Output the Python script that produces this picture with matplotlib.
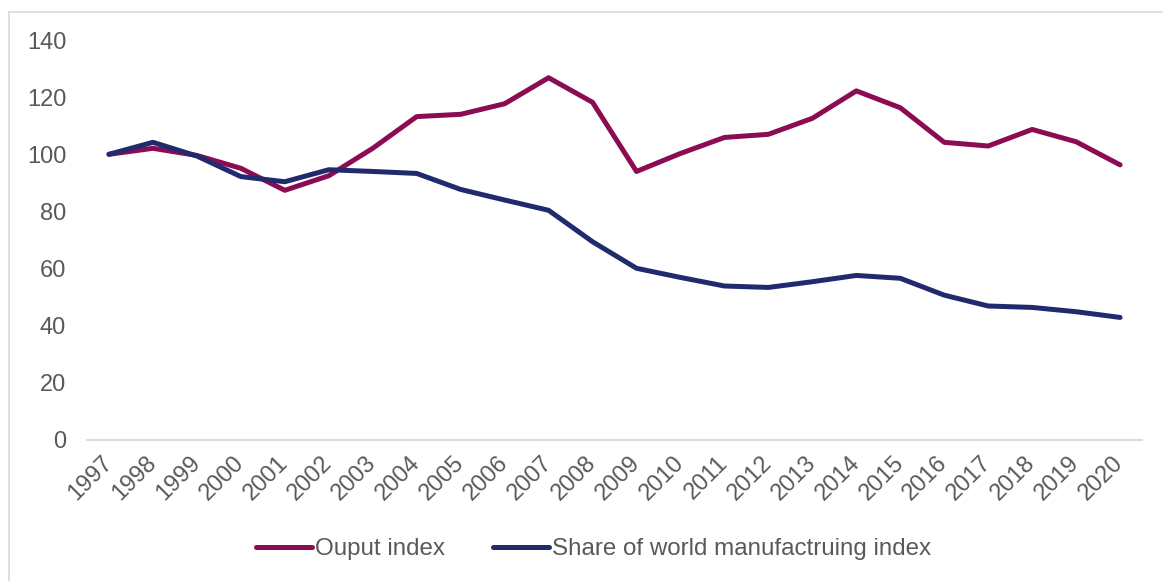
import matplotlib.pyplot as plt
from matplotlib.lines import Line2D

plt.rcParams['font.family'] = ['Liberation Sans', 'DejaVu Sans']

years = [str(y) for y in range(1997, 2021)]
output_index = [100, 102.1, 99.6, 95.1, 87.4, 92.5, 102.1, 113.2, 114.0, 117.7,
                126.8, 118.2, 94.0, 100.3, 105.9, 107.0, 112.6, 122.2, 116.3, 104.2,
                102.9, 108.7, 104.4, 96.3]
share_index = [100, 104.2, 99.4, 92.2, 90.4, 94.6, 94.0, 93.3, 87.7, 84.0,
               80.4, 69.4, 60.1, 56.9, 53.9, 53.4, 55.4, 57.6, 56.6, 50.7,
               46.9, 46.4, 44.9, 42.9]

red = '#8C0C54'
navy = '#222A6E'
grey_text = '#595959'
grey_line = '#D9D9D9'

fig = plt.figure(figsize=(11.63, 5.81), dpi=100)
ax = fig.add_axes([0.0748, 0.2427, 0.9072, 0.6884])

x = range(len(years))
ax.plot(x, output_index, color=red, lw=3.6, solid_capstyle='round',
        solid_joinstyle='round', label='Ouput index')
ax.plot(x, share_index, color=navy, lw=3.6, solid_capstyle='round',
        solid_joinstyle='round', label='Share of world manufactruing index')

ax.set_xlim(-0.5, len(years) - 0.5)
ax.set_ylim(0, 140)
ax.set_yticks(range(0, 141, 20))
ax.set_xticks(list(x))
ax.set_xticklabels(years, rotation=45, ha='right', va='center',
                   rotation_mode='anchor')

for side in ['top', 'right', 'left']:
    ax.spines[side].set_visible(False)
ax.spines['bottom'].set_color(grey_line)
ax.spines['bottom'].set_linewidth(1.3)
ax.tick_params(axis='both', length=0, labelsize=17, labelcolor=grey_text)
ax.tick_params(axis='y', pad=15)
ax.tick_params(axis='x', pad=14)

leg = ax.legend(loc='center', bbox_to_anchor=(0.5103, 0.055), bbox_transform=fig.transFigure,
                ncol=2, frameon=False, fontsize=17.4, handlelength=2.3,
                handletextpad=0.12, columnspacing=2.0)
for t in leg.get_texts():
    t.set_color(grey_text)

# outer chart border (left and top edges)
fig.add_artist(Line2D([8.5 / 1163, 8.5 / 1163], [0, 1 - 11.5 / 581],
                      transform=fig.transFigure, color=grey_line, lw=1.2))
fig.add_artist(Line2D([8.5 / 1163, 1], [1 - 11.5 / 581, 1 - 11.5 / 581],
                      transform=fig.transFigure, color=grey_line, lw=1.2))

fig.savefig('out.png', dpi=100)
